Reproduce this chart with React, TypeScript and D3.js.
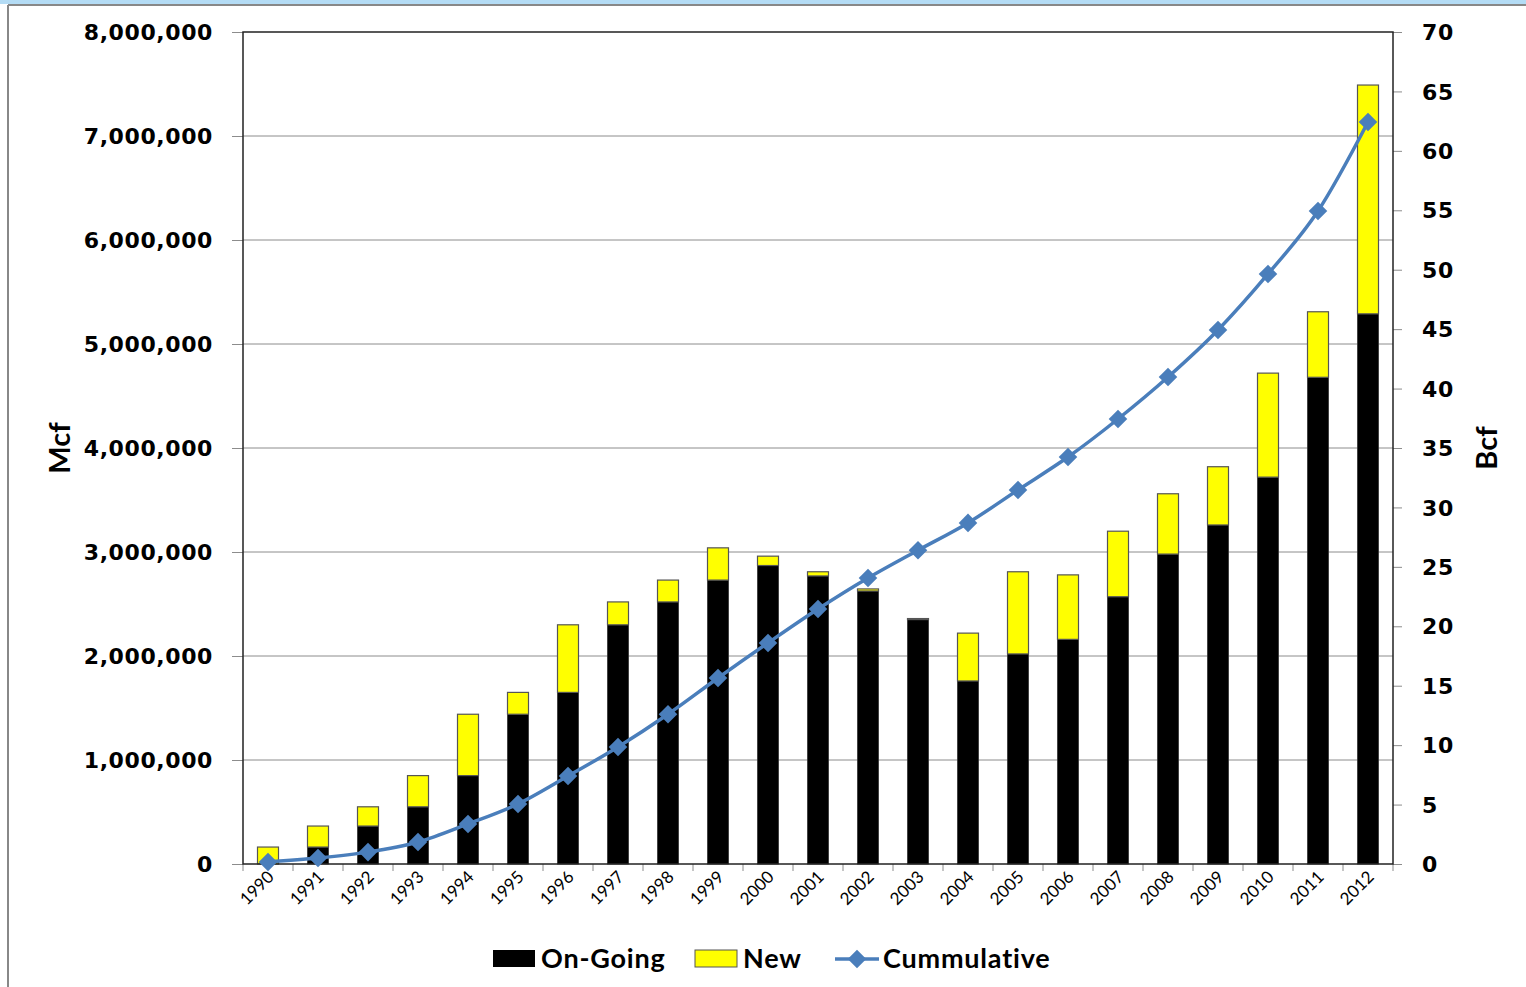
import React, { useEffect, useRef } from 'react';
import * as d3 from 'd3';

const years = ['1990', '1991', '1992', '1993', '1994', '1995', '1996', '1997', '1998', '1999', '2000', '2001',
  '2002', '2003', '2004', '2005', '2006', '2007', '2008', '2009', '2010', '2011', '2012'];

// Mcf
const onGoing = [0, 163000, 365000, 550000, 850000, 1440000, 1650000, 2300000, 2520000, 2730000, 2870000, 2770000,
  2625000, 2350000, 1760000, 2020000, 2160000, 2570000, 2980000, 3260000, 3720000, 4680000, 5290000];
const totals = [163000, 365000, 550000, 850000, 1440000, 1650000, 2300000, 2520000, 2730000, 3040000, 2960000, 2810000,
  2645000, 2360000, 2220000, 2810000, 2780000, 3200000, 3560000, 3820000, 4720000, 5310000, 7490000];

// Bcf
const cumulative = [0.17, 0.5, 1.0, 1.85, 3.37, 5.05, 7.4, 9.85, 12.6, 15.65, 18.6, 21.45,
  24.06, 26.4, 28.7, 31.47, 34.24, 37.44, 40.97, 44.93, 49.64, 54.94, 62.43];

const leftTicks = [0, 1000000, 2000000, 3000000, 4000000, 5000000, 6000000, 7000000, 8000000];
const rightTicks = [0, 5, 10, 15, 20, 25, 30, 35, 40, 45, 50, 55, 60, 65, 70];

const W = 1526;
const H = 987;
const margin = { left: 243, right: 133, top: 32, bottom: 123 };
const LINE = '#4a7ebb';
const TICK_FONT = '"DejaVu Sans", Verdana, sans-serif';
const LEG_FONT = 'Lato, "Open Sans", sans-serif';

const App: React.FC = () => {
  const svgRef = useRef<SVGSVGElement>(null);

  useEffect(() => {
    if (!svgRef.current) return;
    const svg = d3.select(svgRef.current);
    svg.selectAll('*').remove();

    const x0 = margin.left;
    const x1 = W - margin.right;
    const y0 = H - margin.bottom;
    const y1 = margin.top;

    // page frame
    svg.append('rect').attr('x', 0).attr('y', 0).attr('width', W).attr('height', H).attr('fill', '#fff');
    svg.append('rect').attr('x', 0).attr('y', 0).attr('width', W).attr('height', 4).attr('fill', '#b4dcf5');
    svg.append('line').attr('x1', 8).attr('x2', W).attr('y1', 5).attr('y2', 5).attr('stroke', '#888').attr('stroke-width', 2);
    svg.append('line').attr('x1', 8).attr('x2', 8).attr('y1', 5).attr('y2', H).attr('stroke', '#888').attr('stroke-width', 2);

    const xScale = d3.scaleBand().domain(years).range([x0, x1]).paddingInner(0.58).paddingOuter(0.29);
    const xBand = d3.scaleBand().domain(years).range([x0, x1]);
    const yLeft = d3.scaleLinear().domain([0, 8000000]).range([y0, y1]);
    const yRight = d3.scaleLinear().domain([0, 70]).range([y0, y1]);

    // gridlines
    svg.append('g').selectAll('line').data(leftTicks.slice(1, -1)).enter().append('line')
      .attr('x1', x0).attr('x2', x1)
      .attr('y1', d => yLeft(d)).attr('y2', d => yLeft(d))
      .attr('stroke', '#8c8c8c').attr('stroke-width', 1);

    // left axis
    const gl = svg.append('g').attr('transform', `translate(${x0},0)`)
      .call(d3.axisLeft(yLeft).tickValues(leftTicks).tickSize(11).tickPadding(19).tickFormat(d3.format(',')));
    gl.select('.domain').remove();
    gl.selectAll('.tick line').attr('stroke', '#8c8c8c');
    gl.selectAll('.tick text').attr('font-family', TICK_FONT).attr('font-weight', 'bold')
      .attr('font-size', 22).attr('letter-spacing', 0.6).attr('fill', '#000').attr('dy', '0.35em');

    // right axis
    const gr = svg.append('g').attr('transform', `translate(${x1},0)`)
      .call(d3.axisRight(yRight).tickValues(rightTicks).tickSize(9).tickPadding(20));
    gr.select('.domain').remove();
    gr.selectAll('.tick line').attr('stroke', '#8c8c8c');
    gr.selectAll('.tick text').attr('font-family', TICK_FONT).attr('font-weight', 'bold')
      .attr('font-size', 22).attr('letter-spacing', 0.6).attr('fill', '#000').attr('dy', '0.35em');

    // bottom ticks at category boundaries
    svg.append('g').selectAll('line').data([...years.map(y => xBand(y) as number), x1]).enter().append('line')
      .attr('x1', d => d).attr('x2', d => d).attr('y1', y0).attr('y2', y0 + 7)
      .attr('stroke', '#8c8c8c');

    // bars
    const bars = svg.append('g');
    years.forEach((yr, i) => {
      const bx = xScale(yr) as number;
      const bw = xScale.bandwidth();
      if (onGoing[i] > 0) {
        bars.append('rect').attr('x', bx).attr('y', yLeft(onGoing[i])).attr('width', bw)
          .attr('height', y0 - yLeft(onGoing[i])).attr('fill', '#000').attr('stroke', '#333').attr('stroke-width', 0.8);
      }
      bars.append('rect').attr('x', bx).attr('y', yLeft(totals[i])).attr('width', bw)
        .attr('height', yLeft(onGoing[i]) - yLeft(totals[i])).attr('fill', '#ffff00')
        .attr('stroke', '#555').attr('stroke-width', 1.2);
    });

    // plot border
    svg.append('rect').attr('x', x0).attr('y', y1).attr('width', x1 - x0).attr('height', y0 - y1)
      .attr('fill', 'none').attr('stroke', '#222').attr('stroke-width', 1.5);

    // cumulative line
    const cx = (i: number) => (xBand(years[i]) as number) + xBand.bandwidth() / 2;
    const line = d3.line<number>().x((_, i) => cx(i)).y(d => yRight(d)).curve(d3.curveMonotoneX);
    svg.append('path').datum(cumulative).attr('d', line).attr('fill', 'none')
      .attr('stroke', LINE).attr('stroke-width', 3.5);
    const diamond = d3.symbol().type(d3.symbolDiamond2).size(220)();
    svg.append('g').selectAll('path').data(cumulative).enter().append('path')
      .attr('d', diamond)
      .attr('transform', (d, i) => `translate(${cx(i)},${yRight(d)})`)
      .attr('fill', LINE);

    // x labels
    svg.append('g').selectAll('text').data(years).enter().append('text')
      .attr('transform', d => `translate(${(xBand(d) as number) + xBand.bandwidth() / 2 + 7},${y0 + 14}) rotate(-45)`)
      .attr('text-anchor', 'end').attr('font-family', LEG_FONT).attr('font-size', 17)
      .attr('fill', '#000').text(d => d);

    // axis titles
    svg.append('text').attr('transform', `translate(70,448) rotate(-90)`).attr('text-anchor', 'middle')
      .attr('font-family', LEG_FONT).attr('font-weight', 'bold').attr('font-size', 29).text('Mcf');
    svg.append('text').attr('transform', `translate(1497,448) rotate(-90)`).attr('text-anchor', 'middle')
      .attr('font-family', LEG_FONT).attr('font-weight', 'bold').attr('font-size', 29).text('Bcf');

    // legend
    const lg = svg.append('g').attr('font-family', LEG_FONT).attr('font-weight', 'bold')
      .attr('font-size', 27).attr('letter-spacing', 0.8);
    lg.append('rect').attr('x', 493).attr('y', 950).attr('width', 42).attr('height', 17).attr('fill', '#000');
    lg.append('text').attr('x', 541).attr('y', 968).text('On-Going');
    lg.append('rect').attr('x', 695).attr('y', 950).attr('width', 42).attr('height', 17).attr('fill', '#ffff00')
      .attr('stroke', '#555').attr('stroke-width', 1);
    lg.append('text').attr('x', 743).attr('y', 968).text('New');
    lg.append('line').attr('x1', 835).attr('x2', 879).attr('y1', 959).attr('y2', 959)
      .attr('stroke', LINE).attr('stroke-width', 3.5);
    lg.append('path').attr('d', diamond).attr('transform', 'translate(857,959)').attr('fill', LINE);
    lg.append('text').attr('x', 883).attr('y', 968).text('Cummulative');
  }, []);

  return (
    <svg ref={svgRef} width={W} height={H} style={{ position: 'absolute', left: 0, top: 0 }} />
  );
};

export default App;
